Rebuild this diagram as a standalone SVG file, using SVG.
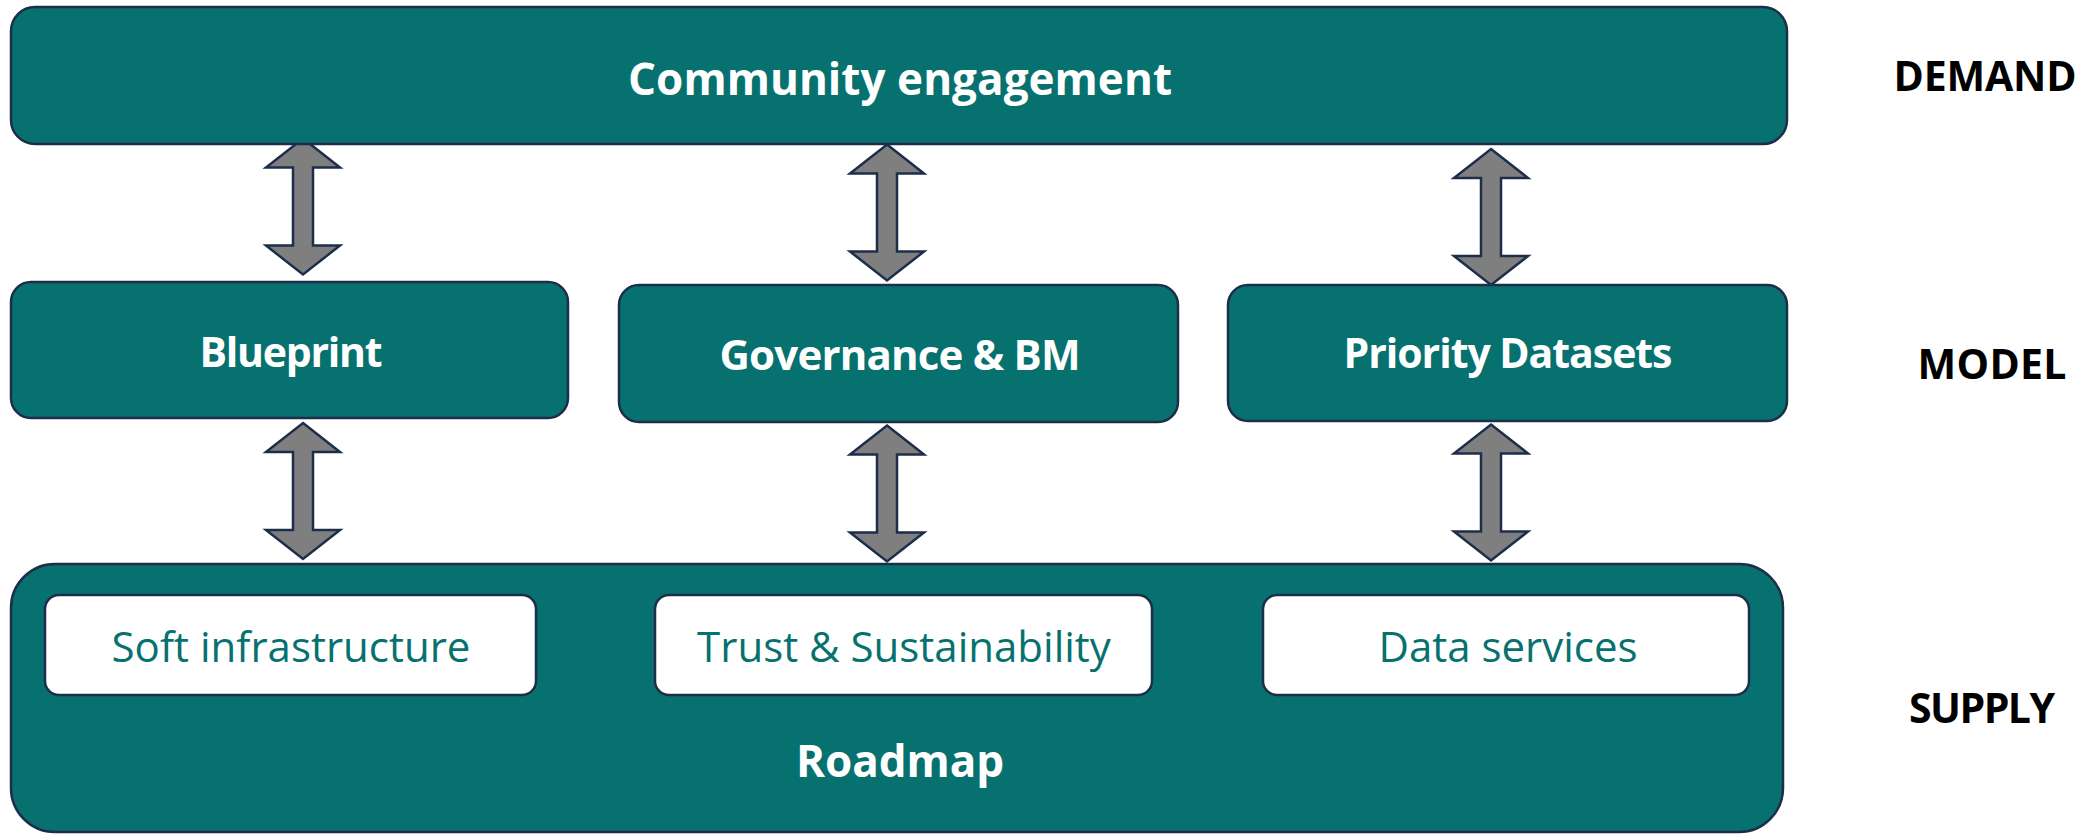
<svg xmlns="http://www.w3.org/2000/svg" width="2084" height="835" viewBox="0 0 2084 835">
<style>
.box{fill:#077170;stroke:#1C2E4A;stroke-width:2.5}
.wbox{fill:#FFFFFF;stroke:#1C2E4A;stroke-width:2.5}
.arr{fill:#7F7F7F;stroke:#1C2E4A;stroke-width:2.5;stroke-linejoin:miter}
.t{font-family:"Open Sans","Liberation Sans",sans-serif;font-weight:bold;font-size:42px;fill:#FFFFFF;text-anchor:middle}
.w{font-family:"Open Sans","Liberation Sans",sans-serif;font-size:42px;fill:#077170;text-anchor:middle}
.lab{font-family:"Open Sans","Liberation Sans",sans-serif;font-weight:bold;font-size:41px;fill:#000000;text-anchor:middle}
</style>
<defs>
<path id="dblarrow" class="arr" d="M0,0 L37,29 L10,29 L10,107 L37,107 L0,136 L-37,107 L-10,107 L-10,29 L-37,29 Z"/>
</defs>
<rect width="2084" height="835" fill="#FFFFFF"/>
<g id="connectors">
<use href="#dblarrow" transform="translate(303,138.5)"/>
<use href="#dblarrow" transform="translate(887,144.5)"/>
<use href="#dblarrow" transform="translate(1491,149)"/>
<use href="#dblarrow" transform="translate(303,423)"/>
<use href="#dblarrow" transform="translate(887,425.5)"/>
<use href="#dblarrow" transform="translate(1491,424.5)"/>
</g>
<g id="community">
<rect class="box" x="11" y="7" width="1776" height="137" rx="24"/>
<text class="t" x="900" y="95" style="font-size:44px" textLength="544" lengthAdjust="spacing">Community engagement</text>
</g>
<g id="blueprint">
<rect class="box" x="11" y="282" width="557" height="136" rx="20"/>
<text class="t" x="291" y="367" style="font-size:41px" textLength="183" lengthAdjust="spacing">Blueprint</text>
</g>
<g id="governance">
<rect class="box" x="619" y="285" width="559" height="137" rx="20"/>
<text class="t" x="900" y="370" textLength="361" lengthAdjust="spacing">Governance &amp; BM</text>
</g>
<g id="priority">
<rect class="box" x="1228" y="285" width="559" height="136" rx="20"/>
<text class="t" x="1508" y="368" style="font-size:41px" textLength="329" lengthAdjust="spacing">Priority Datasets</text>
</g>
<g id="roadmap">
<rect class="box" x="11" y="564" width="1772" height="268" rx="44"/>
<text class="t" x="900" y="777" style="font-size:44px" textLength="208" lengthAdjust="spacing">Roadmap</text>
</g>
<g id="soft">
<rect class="wbox" x="45" y="595" width="491" height="100" rx="14"/>
<text class="w" x="291" y="662">Soft infrastructure</text>
</g>
<g id="trust">
<rect class="wbox" x="655" y="595" width="497" height="100" rx="14"/>
<text class="w" x="904" y="662">Trust &amp; Sustainability</text>
</g>
<g id="data">
<rect class="wbox" x="1263" y="595" width="486" height="100" rx="14"/>
<text class="w" x="1508" y="662">Data services</text>
</g>
<g id="labels">
<text class="lab" x="1985" y="91" textLength="183" lengthAdjust="spacing">DEMAND</text>
<text class="lab" x="1992" y="379" textLength="149" lengthAdjust="spacing">MODEL</text>
<text class="lab" x="1982" y="723" textLength="146" lengthAdjust="spacing">SUPPLY</text>
</g>
</svg>
